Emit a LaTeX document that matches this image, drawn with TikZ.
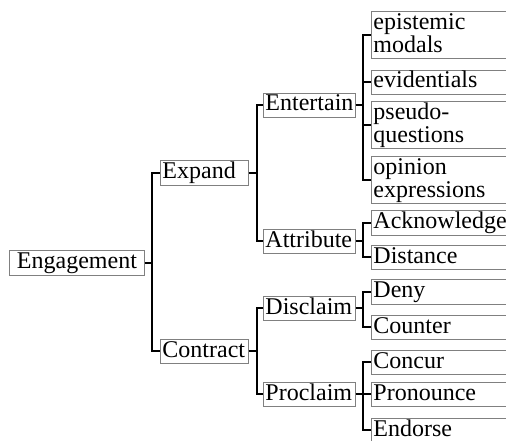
\documentclass[tikz,border=0pt]{standalone}
\usepackage{fontspec}
\setmainfont{Liberation Serif}
\newcommand{\boxstrut}{\rule[-5pt]{0pt}{22pt}}
\begin{document}
\begin{tikzpicture}[x = 1pt, y = -1pt,
		box/.style = {draw = gray, line width = 0.9pt, fill = white, anchor = west, inner xsep = 2pt, inner ysep = 1pt, font = \fontsize{24}{23.5}\selectfont, execute at begin node = \boxstrut, execute at end node = \boxstrut},
		rootbox/.style = {box, minimum width = 135pt},
		midbox/.style = {box, text width = 84pt, align = left},
		subbox/.style = {box, text width = 88pt, align = left},
		leafbox/.style = {box, text width = 160pt, align = left},
		edge/.style = {line width = 2.6pt}]
	\useasboundingbox (0, 0) rectangle (506, 441);
	\clip (0, 0) rectangle (506, 441);
	% Nodes
	\node[rootbox] (eng) at (9, 263) {Engagement};
	\node[midbox] (exp) at (160, 173) {Expand};
	\node[midbox] (con) at (160, 351) {Contract};
	\node[subbox] (ent) at (263, 105) {Entertain};
	\node[subbox] (att) at (263, 241) {Attribute};
	\node[subbox] (dis) at (263, 308) {Disclaim};
	\node[subbox] (pro) at (263, 394) {Proclaim};
	\node[leafbox] (epi) at (371, 35) {epistemic\\modals};
	\node[leafbox] (evi) at (371, 82) {evidentials};
	\node[leafbox] (pse) at (371, 125) {pseudo-\\questions};
	\node[leafbox] (opi) at (371, 180) {opinion\\expressions};
	\node[leafbox] (ack) at (371, 223) {Acknowledge};
	\node[leafbox] (dst) at (371, 257) {Distance};
	\node[leafbox] (den) at (371, 292) {Deny};
	\node[leafbox] (cou) at (371, 327) {Counter};
	\node[leafbox] (ccr) at (371, 362) {Concur};
	\node[leafbox] (prn) at (371, 394) {Pronounce};
	\node[leafbox] (edr) at (371, 430) {Endorse};
	
	% Edges
	\draw[edge] (eng.east) -- ++(7, 0) |- (exp.west);
	\draw[edge] (eng.east) -- ++(7, 0) |- (con.west);
	\draw[edge] (exp.east) -- ++(8, 0) |- (ent.west);
	\draw[edge] (exp.east) -- ++(8, 0) |- (att.west);
	\draw[edge] (con.east) -- ++(8, 0) |- (dis.west);
	\draw[edge] (con.east) -- ++(8, 0) |- (pro.west);
	\draw[edge] (ent.east) -- ++(7, 0) |- (epi.west);
	\draw[edge] (ent.east) -- ++(7, 0) |- (evi.west);
	\draw[edge] (ent.east) -- ++(7, 0) |- (pse.west);
	\draw[edge] (ent.east) -- ++(7, 0) |- (opi.west);
	\draw[edge] (att.east) -- ++(7, 0) |- (ack.west);
	\draw[edge] (att.east) -- ++(7, 0) |- (dst.west);
	\draw[edge] (dis.east) -- ++(7, 0) |- (den.west);
	\draw[edge] (dis.east) -- ++(7, 0) |- (cou.west);
	\draw[edge] (pro.east) -- ++(7, 0) |- (ccr.west);
	\draw[edge] (pro.east) -- ++(7, 0) |- (prn.west);
	\draw[edge] (pro.east) -- ++(7, 0) |- (edr.west);
\end{tikzpicture}
\end{document}
